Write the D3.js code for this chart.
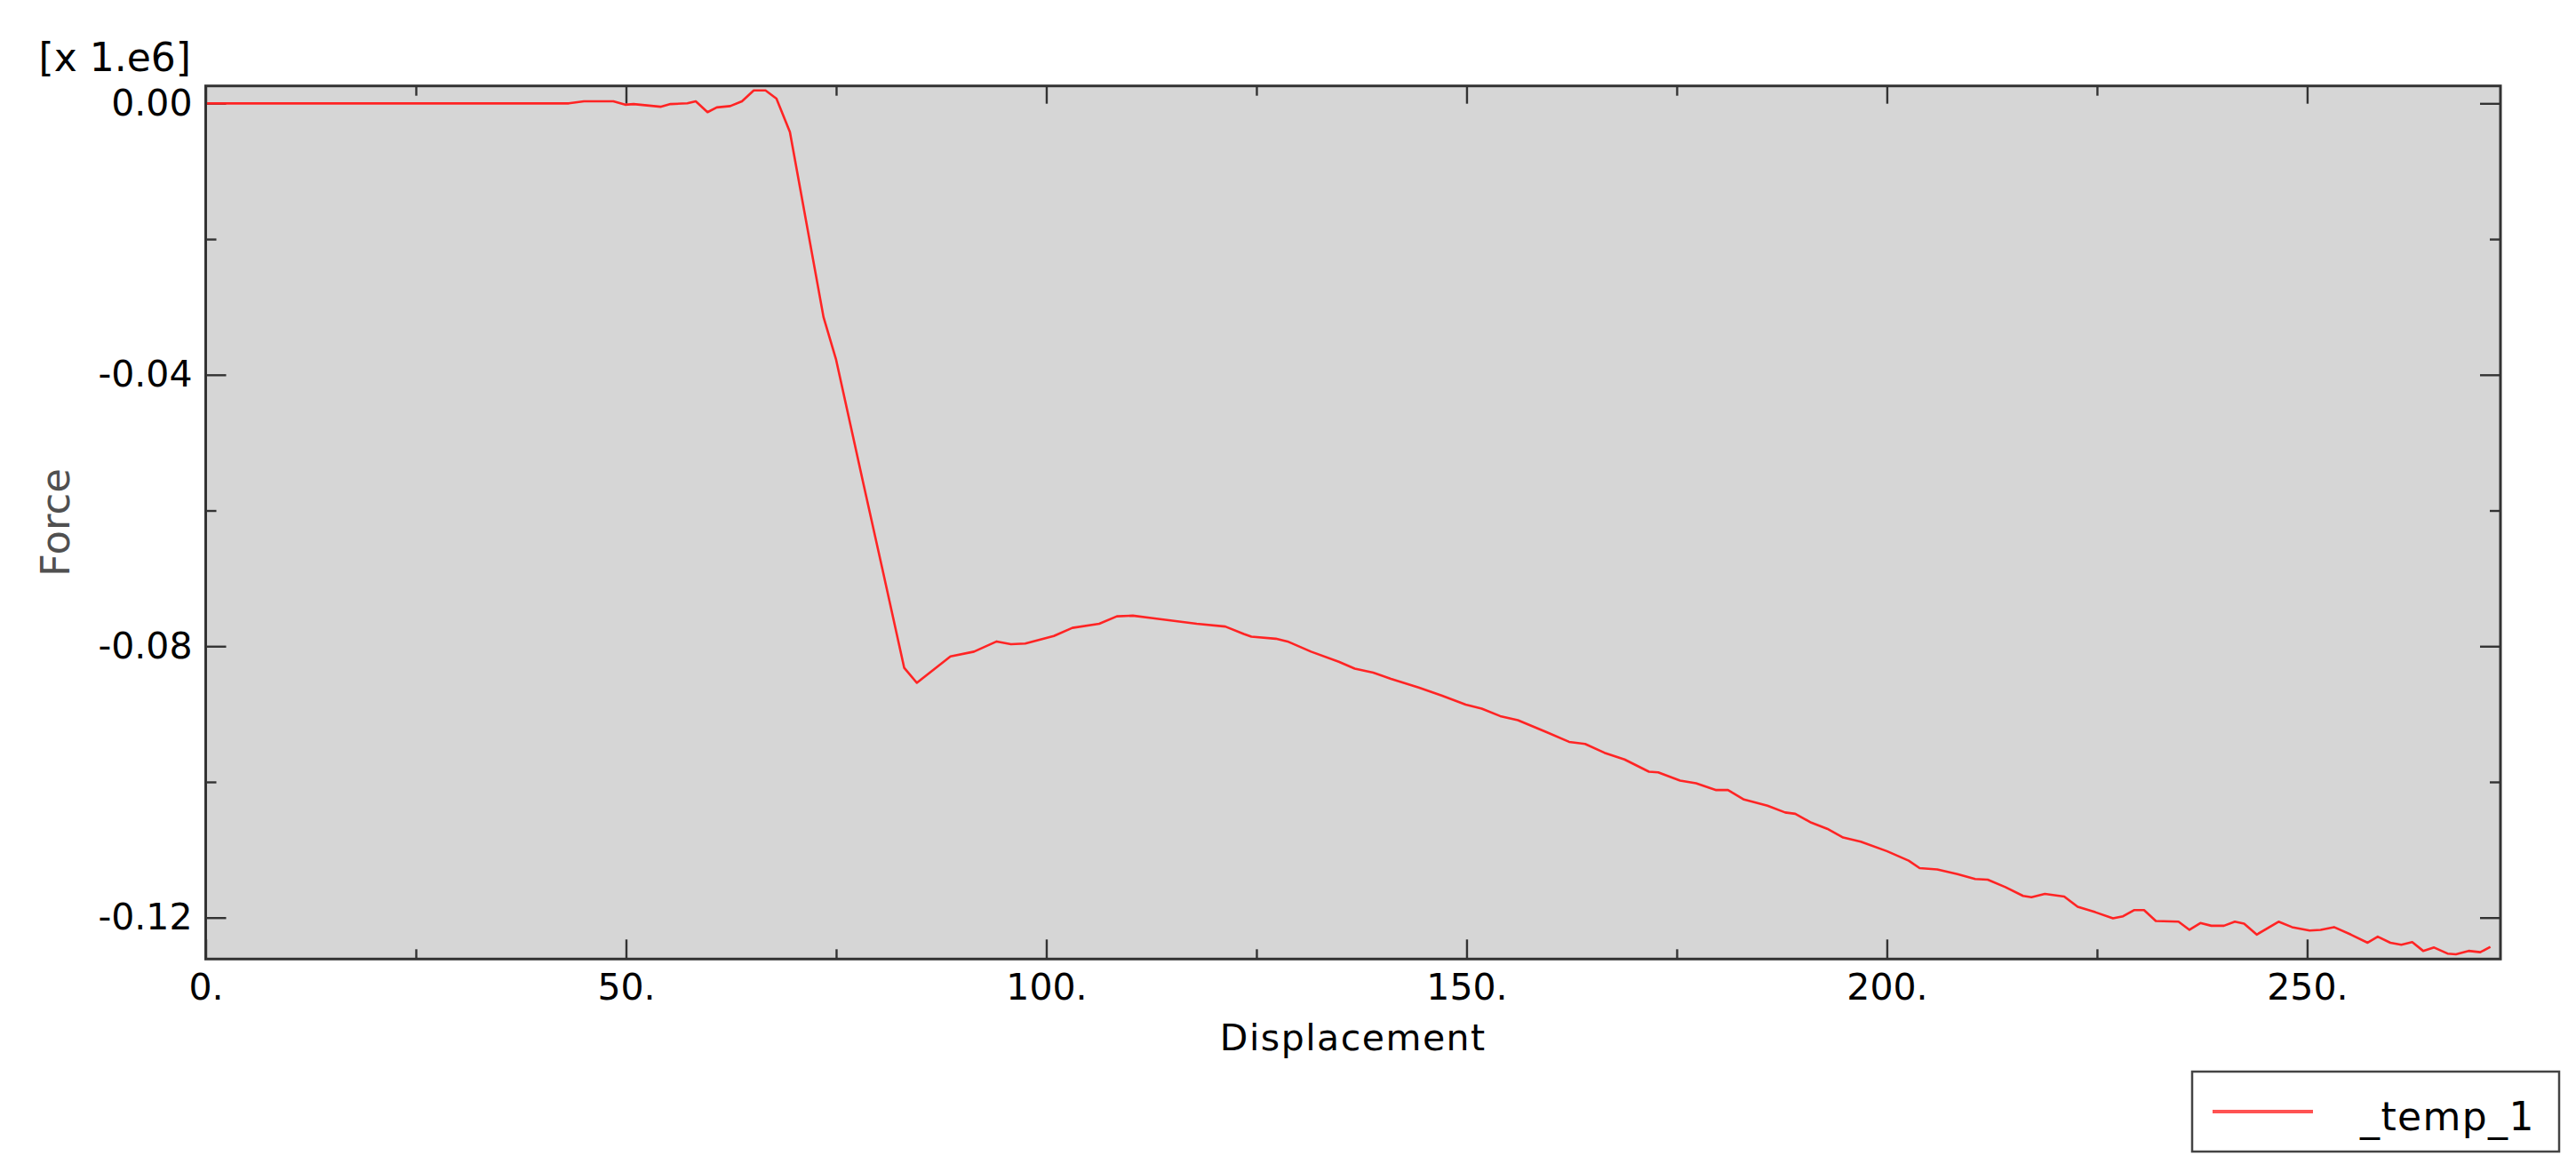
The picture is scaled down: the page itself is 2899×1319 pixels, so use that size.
<!DOCTYPE html>
<html>
<head>
<meta charset="utf-8">
<script src="https://cdn.jsdelivr.net/npm/d3@7"></script>
<style>
  body { margin: 0; background: #ffffff; }
  text { font-family: "DejaVu Sans", Verdana, sans-serif; }
</style>
</head>
<body>
<div id="chart"></div>
<script>
// Displacement (x) and Force (x 1.e6)
var displacement = [0, 43.2, 45.0, 48.5, 49.9, 50.9, 54.1, 55.3, 57.3, 58.3, 59.7, 60.8, 62.4, 63.8, 65.2, 66.6, 67.9,
  69.5, 73.5, 75.0, 78.2, 80.5, 83.1, 84.6, 88.6, 91.4, 94.1, 95.8, 97.5, 100.9, 103.1, 106.3, 108.4, 110.3, 112.9,
  117.9, 121.3, 123.5, 124.4, 127.3, 128.7, 131.5, 134.8, 136.7, 138.9, 141.0, 144.3, 147.1, 149.9, 151.8, 154.0,
  156.1, 159.4, 162.2, 164.1, 166.4, 168.8, 171.7, 172.8, 175.4, 177.3, 179.7, 181.1, 183.0, 185.8, 187.9, 189.1,
  191.0, 192.9, 194.8, 196.9, 200.0, 202.6, 203.9, 206.0, 208.4, 210.5, 212.0, 214.1, 216.2, 217.2, 218.8, 221.1,
  222.7, 224.8, 226.9, 228.1, 229.4, 230.6, 232.0, 234.7, 236.0, 237.3, 238.6, 240.1, 241.4, 242.5, 244.0, 246.6,
  248.2, 250.3, 251.6, 253.2, 255.2, 257.2, 258.4, 259.9, 261.2, 262.5, 263.8, 265.1, 266.7, 267.7, 269.2, 270.6, 271.8]

var force = [0, 0, 0.0003, 0.0003, -0.0002, -0.0001, -0.0005, -0.0001, 0, 0.0003, -0.0013, -0.0006, -0.0004, 0.0003, 0.0019, 0.0019, 0.0007,
  -0.0042, -0.0315, -0.0378, -0.0558, -0.0686, -0.0832, -0.0854, -0.0815, -0.0808, -0.0793, -0.0797, -0.0796, -0.0785, -0.0773, -0.0767, -0.0756, -0.0755, -0.0759,
  -0.0767, -0.0771, -0.0782, -0.0786, -0.0789, -0.0793, -0.0808, -0.0823, -0.0833, -0.0839, -0.0848, -0.0861, -0.0873, -0.0886, -0.0892, -0.0903,
  -0.0909, -0.0926, -0.0941, -0.0944, -0.0957, -0.0967, -0.0985, -0.0986, -0.0998, -0.1002, -0.1012, -0.1012, -0.1026, -0.1035, -0.1045, -0.1047,
  -0.1060, -0.1069, -0.1082, -0.1088, -0.1102, -0.1116, -0.1127, -0.1129, -0.1136, -0.1143, -0.1144, -0.1155, -0.1168, -0.1170, -0.1165, -0.1169,
  -0.1184, -0.1192, -0.1201, -0.1198, -0.1189, -0.1189, -0.1205, -0.1206, -0.1218, -0.1208, -0.1212, -0.1212, -0.1206, -0.1209, -0.1225, -0.1206,
  -0.1214, -0.1219, -0.1218, -0.1214, -0.1225, -0.1237, -0.1228, -0.1237, -0.1240, -0.1236, -0.1249, -0.1244, -0.1253, -0.1254, -0.1249, -0.1251, -0.1243]

var xMajorTicks = [0, 50, 100, 150, 200, 250]
var xMinorTicks = [25, 75, 125, 175, 225]
var yMajorTicks = [0, -0.04, -0.08, -0.12]
var yMinorTicks = [-0.02, -0.06, -0.10]
var xTickLabels = ["0.", "50.", "100.", "150.", "200.", "250."]
var yTickLabels = ["0.00", "-0.04", "-0.08", "-0.12"]
var seriesName = "_temp_1"

var width = 2899
var height = 1319
var margin = {top: 96.7, right: 85, bottom: 239.7, left: 231.5}
var lineColor = "#ff2424"

var points = displacement.map((d, i) => ({x: d, y: force[i]}))

var svg = d3.select("#chart")
  .append("svg")
  .attr("width", width)
  .attr("height", height)

var xScale = d3.scaleLinear()
  .domain([0, 273])
  .range([margin.left, width - margin.right])

var yScale = d3.scaleLinear()
  .domain([-0.1261, 0.00257])
  .range([height - margin.bottom, margin.top])

var plotW = width - margin.right - margin.left
var plotH = height - margin.bottom - margin.top

// plot background
svg.append("rect")
  .attr("x", margin.left)
  .attr("y", margin.top)
  .attr("width", plotW)
  .attr("height", plotH)
  .style("fill", "#d6d6d6")

// inward ticks on all four sides
function tickAxis(axis, values, size, transform, labels) {
  var g = svg.append("g")
    .attr("transform", transform)
    .call(axis.tickValues(values).tickSize(-size).tickSizeOuter(0)
      .tickFormat(labels ? (d, i) => labels[i] : ""))
  g.select(".domain").remove()
  g.selectAll("line").style("stroke", "#333333").style("stroke-width", 2.4)
  return g
}

var bottomY = height - margin.bottom
var rightX = width - margin.right

var xLabels = tickAxis(d3.axisBottom(xScale).tickPadding(17), xMajorTicks, 22, `translate(0,${bottomY})`, xTickLabels)
tickAxis(d3.axisBottom(xScale), xMinorTicks, 11, `translate(0,${bottomY})`)
tickAxis(d3.axisTop(xScale), xMajorTicks, 20, `translate(0,${margin.top})`)
tickAxis(d3.axisTop(xScale), xMinorTicks, 11, `translate(0,${margin.top})`)

var yLabels = tickAxis(d3.axisLeft(yScale).tickPadding(15), yMajorTicks, 23, `translate(${margin.left},0)`, yTickLabels)
tickAxis(d3.axisLeft(yScale), yMinorTicks, 12, `translate(${margin.left},0)`)
tickAxis(d3.axisRight(yScale), yMajorTicks, 23, `translate(${rightX},0)`)
tickAxis(d3.axisRight(yScale), yMinorTicks, 12, `translate(${rightX},0)`)

xLabels.selectAll("text")
  .style("font-family", "'DejaVu Sans', sans-serif")
  .style("font-size", "41px")
  .style("fill", "#000")

yLabels.selectAll("text")
  .style("font-family", "'DejaVu Sans', sans-serif")
  .style("font-size", "41px")
  .style("fill", "#000")

// the curve
var line = d3.line()
  .x(d => xScale(d.x))
  .y(d => yScale(d.y))

svg.append("path")
  .datum(points)
  .attr("d", line)
  .style("fill", "none")
  .style("stroke", lineColor)
  .style("stroke-width", 2.6)
  .style("stroke-linejoin", "round")

// frame
svg.append("rect")
  .attr("x", margin.left)
  .attr("y", margin.top)
  .attr("width", plotW)
  .attr("height", plotH)
  .style("fill", "none")
  .style("stroke", "#333333")
  .style("stroke-width", 3)

// multiplier and axis titles
svg.append("text")
  .attr("x", 215)
  .attr("y", 80)
  .style("text-anchor", "end")
  .style("font-size", "44px")
  .text("[x 1.e6]")

svg.append("text")
  .attr("transform", `translate(78,${margin.top + plotH / 2}) rotate(-90)`)
  .style("text-anchor", "middle")
  .style("font-size", "45px")
  .style("fill", "#505050")
  .text("Force")

svg.append("text")
  .attr("x", margin.left + plotW / 2)
  .attr("y", 1182)
  .style("text-anchor", "middle")
  .style("font-size", "41px")
  .style("letter-spacing", "1.5px")
  .text("Displacement")

// legend
var legend = svg.append("g")
  .attr("class", "legend")

legend.append("rect")
  .attr("x", 2467)
  .attr("y", 1206)
  .attr("width", 413)
  .attr("height", 90)
  .style("fill", "#ffffff")
  .style("stroke", "#444444")
  .style("stroke-width", 2.5)

legend.append("line")
  .attr("x1", 2490)
  .attr("x2", 2603)
  .attr("y1", 1251)
  .attr("y2", 1251)
  .style("stroke", "#ff5252")
  .style("stroke-width", 4)

legend.append("text")
  .attr("x", 2656)
  .attr("y", 1272)
  .style("font-size", "44px")
  .style("letter-spacing", "1.4px")
  .text(seriesName)
</script>
</body>
</html>
